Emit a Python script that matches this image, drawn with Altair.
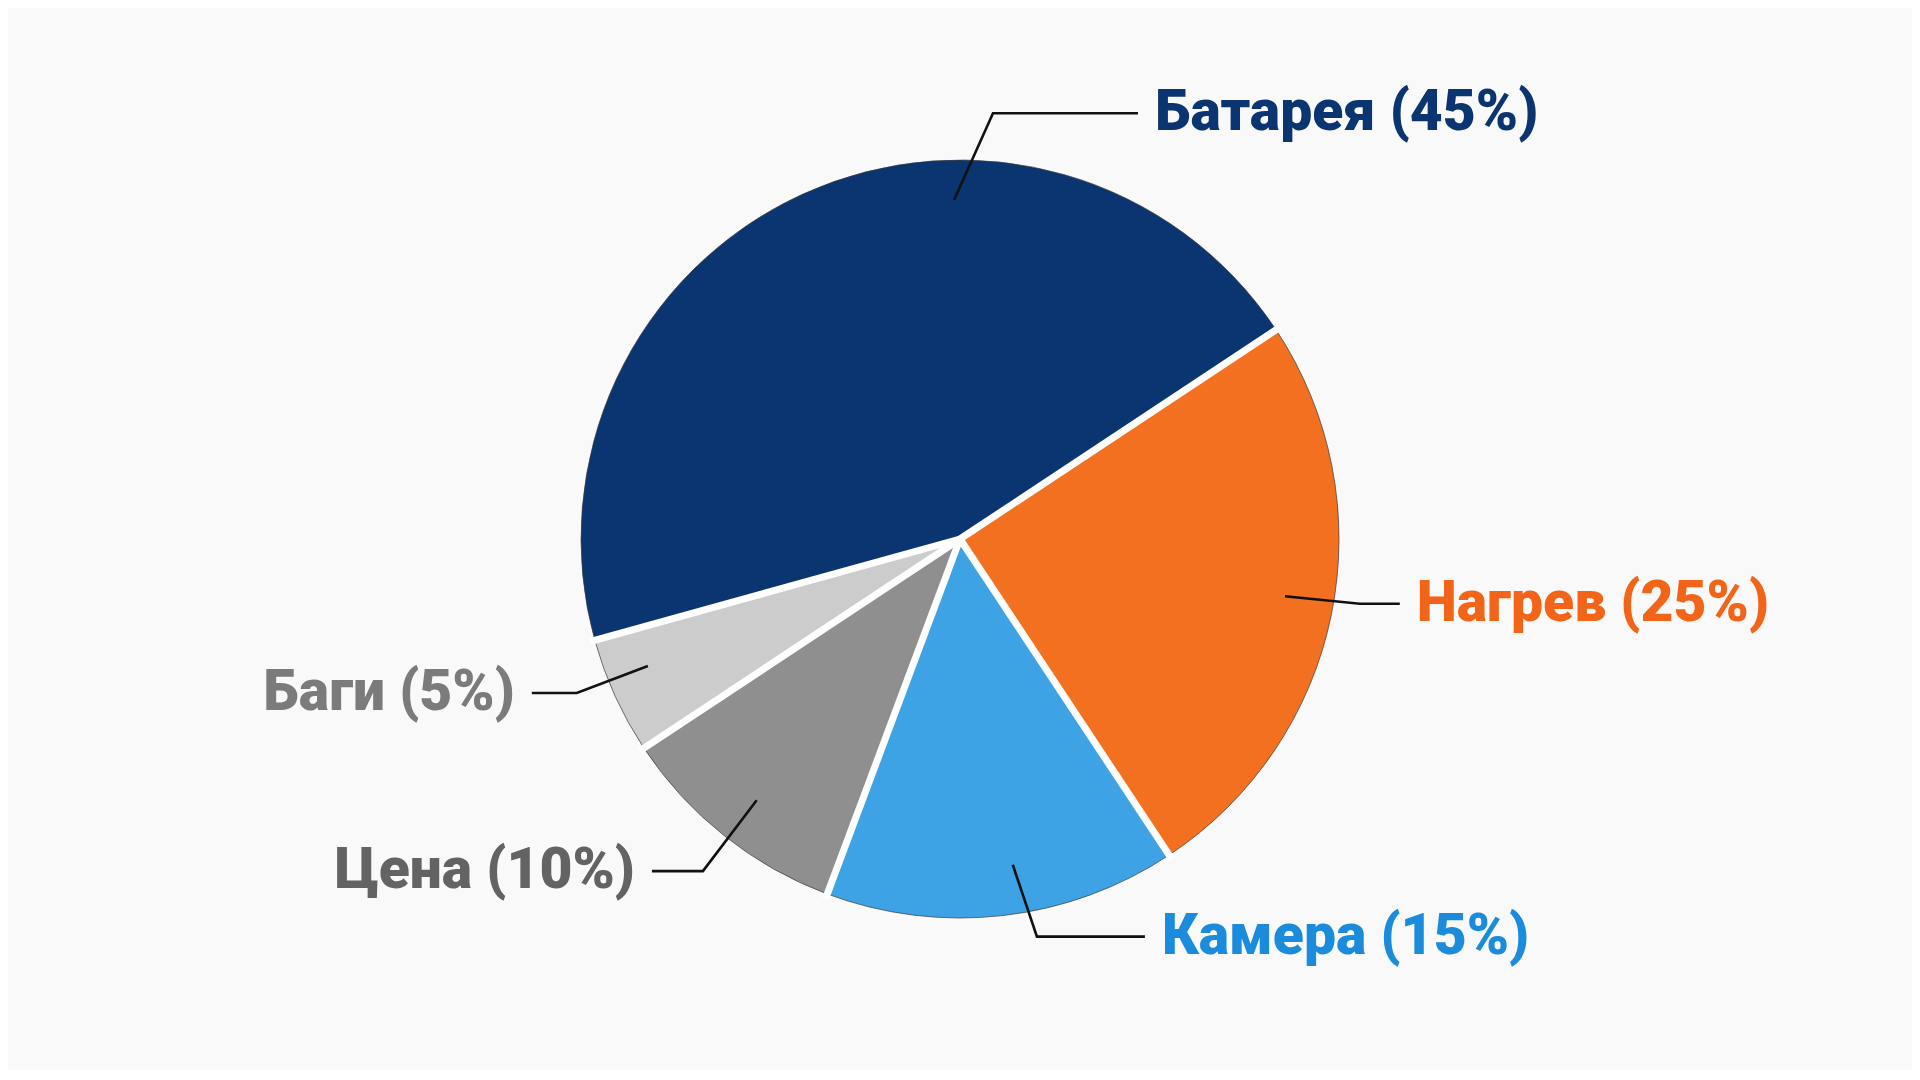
import math
import altair as alt
import pandas as pd

# ---- data ----
categories = ["Батарея", "Нагрев", "Камера", "Цена", "Баги"]
values = [45, 25, 15, 10, 5]
slice_colors = ["#0b3571", "#f37021", "#3da3e5", "#8f8f8f", "#cccccc"]
text_colors = ["#0b3571", "#f26418", "#1b8bdb", "#636363", "#7b7b7b"]
labels = [f"{c} ({v}%)" for c, v in zip(categories, values)]

# ---- layout (annotation geometry) ----
CX, CY = 960, 539          # pie centre in page pixels
R = 379                    # pie radius
START_DEG = 254.5          # angle where the first slice starts (0 = 12 o'clock, clockwise)
# per label: anchor angle, anchor radius, elbow angle, elbow radius, arm length, side
leader = {
    "Батарея": (359.0, 339, 4.43, 427, 145, 1),
    "Нагрев": (100.0, 330, 99.2, 405, 40, 1),
    "Камера": (170.8, 330, 169.05, 405, 108, 1),
    "Цена": (217.9, 331, 217.74, 420, 51, -1),
    "Баги": (247.85, 337, 248.1, 413, 45, -1),
}
GAP = 17

W, H = 1904, 1062
total = sum(values)


def polar(deg, r):
    a = math.radians(deg)
    return CX + r * math.sin(a), CY - r * math.cos(a)


pie_df = pd.DataFrame({
    "cat": categories,
    "value": values,
    "idx": list(range(len(values))),
    "fill": slice_colors,
})

# slice boundaries (white separators)
sep_rows = []
cum = 0
for v in values:
    deg = START_DEG + 360.0 * cum / total
    x2, y2 = polar(deg, R + 5)
    sep_rows.append({"x": CX, "y": CY, "x2": x2, "y2": y2})
    cum += v
sep_df = pd.DataFrame(sep_rows)

line_rows, text_rows = [], []
for cat, lab, tc in zip(categories, labels, text_colors):
    a_deg, a_r, e_deg, e_r, arm, side = leader[cat]
    ax, ay = polar(a_deg, a_r)
    ex, ey = polar(e_deg, e_r)
    endx = ex + side * arm
    for i, (px, py) in enumerate([(ax, ay), (ex, ey), (endx, ey)]):
        line_rows.append({"cat": cat, "step": i, "x": px, "y": py})
    text_rows.append({"label": lab, "x": endx + side * GAP, "y": ey,
                      "tcolor": tc, "side": "right" if side > 0 else "left"})
line_df = pd.DataFrame(line_rows)
text_df = pd.DataFrame(text_rows)

xs = alt.Scale(domain=[8, 8 + W], nice=False, zero=False)
ys = alt.Scale(domain=[8, 8 + H], nice=False, zero=False, reverse=True)

start = math.radians(START_DEG)
pie = alt.Chart(pie_df).mark_arc(
    radius=R, stroke="#3a3a3a", strokeWidth=1, strokeOpacity=0.7
).encode(
    theta=alt.Theta("value:Q", stack=True,
                    scale=alt.Scale(range=[start, start + 2 * math.pi])),
    order=alt.Order("idx:Q"),
    color=alt.Color("fill:N", scale=None),
)

seps = alt.Chart(sep_df).mark_rule(color="white", strokeWidth=7).encode(
    x=alt.X("x:Q", scale=xs, axis=None),
    y=alt.Y("y:Q", scale=ys, axis=None),
    x2="x2:Q",
    y2="y2:Q",
)

lines = alt.Chart(line_df).mark_line(color="#111111", strokeWidth=2.6).encode(
    x=alt.X("x:Q", scale=xs, axis=None),
    y=alt.Y("y:Q", scale=ys, axis=None),
    detail="cat:N",
    order="step:Q",
)

def text_layer(side, align):
    return alt.Chart(text_df).transform_filter(
        alt.datum.side == side
    ).mark_text(
        font="Roboto", fontWeight=900, fontSize=57, align=align, baseline="middle"
    ).encode(
        x=alt.X("x:Q", scale=xs, axis=None),
        y=alt.Y("y:Q", scale=ys, axis=None),
        text="label:N",
        color=alt.Color("tcolor:N", scale=None),
    )

chart = alt.layer(
    pie, seps, lines, text_layer("right", "left"), text_layer("left", "right")
).properties(
    width=W, height=H, padding=0, background="#f9f9f9"
).configure_view(stroke=None)

chart.save("out.html", embed_options={"renderer": "svg", "actions": False})
